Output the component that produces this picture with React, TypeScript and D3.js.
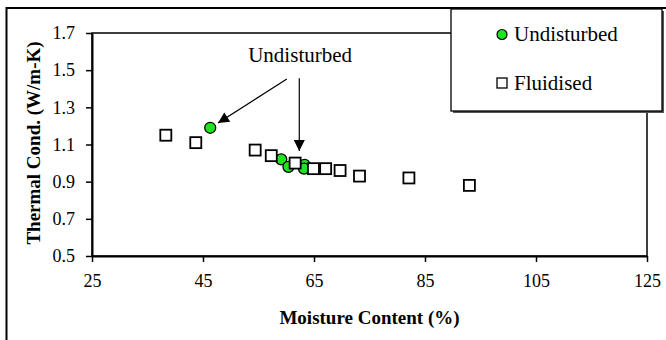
import { useEffect, useRef } from "react";
import * as d3 from "d3";

// moisture content (%) vs thermal conductivity (W/m-K)
const undisturbedX = [46.3, 59.1, 60.4, 63.3, 63.2];
const undisturbedY = [1.19, 1.02, 0.98, 0.99, 0.97];
const fluidisedX = [38.3, 43.7, 54.4, 57.3, 61.6, 64.9, 67.1, 69.7, 73.2, 82.1, 93.0];
const fluidisedY = [1.15, 1.11, 1.07, 1.04, 1.0, 0.97, 0.97, 0.96, 0.93, 0.92, 0.88];
const xTicks = [25, 45, 65, 85, 105, 125];
const yTicks = [0.5, 0.7, 0.9, 1.1, 1.3, 1.5, 1.7];
const seriesNames = ["Undisturbed", "Fluidised"];

const W = 666;
const H = 340;
const m = { l: 92, r: 19, t: 33, b: 84 };
const FONT = "Liberation Serif, Times New Roman, DejaVu Serif, serif";
const GREEN = "#1ee61e";

const App = () => {
  const svgRef = useRef<SVGSVGElement>(null);

  useEffect(() => {
    const svg = d3.select(svgRef.current).attr("font-family", FONT);
    svg.selectAll("*").remove();

    const x = d3.scaleLinear().domain([25, 125]).range([m.l, W - m.r]);
    const y = d3.scaleLinear().domain([0.5, 1.7]).range([H - m.b, m.t]);

    // outer frame
    svg
      .append("rect")
      .attr("x", 6.5)
      .attr("y", 8)
      .attr("width", W)
      .attr("height", H)
      .attr("fill", "white")
      .attr("stroke", "black")
      .attr("stroke-width", 2);

    // plot box
    svg
      .append("rect")
      .attr("x", m.l)
      .attr("y", m.t)
      .attr("width", W - m.r - m.l)
      .attr("height", H - m.b - m.t)
      .attr("fill", "none")
      .attr("stroke", "black")
      .attr("stroke-width", 1.5);

    const xAxis = d3.axisBottom(x).tickValues(xTicks).tickSizeInner(6).tickSizeOuter(0).tickPadding(12);
    const gx = svg.append("g").attr("transform", `translate(0,${H - m.b})`).call(xAxis);
    const yAxis = d3
      .axisLeft(y)
      .tickValues(yTicks)
      .tickFormat(d3.format(".1f"))
      .tickSizeInner(6)
      .tickSizeOuter(0)
      .tickPadding(11);
    const gy = svg.append("g").attr("transform", `translate(${m.l},0)`).call(yAxis);
    [gx, gy].forEach((g) => {
      g.attr("font-family", FONT).attr("font-size", 18);
      g.select(".domain").attr("stroke-width", 2);
      g.selectAll(".tick line").attr("stroke-width", 1.5);
      g.selectAll(".tick text").attr("fill", "black");
    });

    // axis titles
    svg
      .append("text")
      .attr("x", (m.l + W - m.r) / 2)
      .attr("y", 324)
      .attr("text-anchor", "middle")
      .attr("font-size", 19)
      .attr("font-weight", "bold")
      .text("Moisture Content (%)");
    svg
      .append("text")
      .attr("transform", "rotate(-90)")
      .attr("x", -143)
      .attr("y", 40)
      .attr("text-anchor", "middle")
      .attr("font-size", 19)
      .attr("font-weight", "bold")
      .text("Thermal Cond. (W/m-K)");

    // annotation with arrows
    const defs = svg.append("defs");
    defs
      .append("marker")
      .attr("id", "head")
      .attr("viewBox", "0 0 10 10")
      .attr("refX", 10)
      .attr("refY", 5)
      .attr("markerWidth", 13)
      .attr("markerHeight", 11)
      .attr("markerUnits", "userSpaceOnUse")
      .attr("orient", "auto")
      .append("path")
      .attr("d", "M0,0L10,5L0,10Z")
      .attr("fill", "black");

    svg
      .append("text")
      .attr("x", x(62.5))
      .attr("y", y(1.545))
      .attr("text-anchor", "middle")
      .attr("font-size", 21)
      .text("Undisturbed");
    const arrows = [
      [60.1, 1.452, 47.7, 1.216],
      [62.35, 1.456, 62.35, 1.065],
    ];
    svg
      .selectAll(".arrow")
      .data(arrows)
      .join("line")
      .attr("x1", (d) => x(d[0]))
      .attr("y1", (d) => y(d[1]))
      .attr("x2", (d) => x(d[2]))
      .attr("y2", (d) => y(d[3]))
      .attr("stroke", "black")
      .attr("stroke-width", 1.2)
      .attr("marker-end", "url(#head)");

    // undisturbed circles
    svg
      .append("g")
      .selectAll("circle")
      .data(undisturbedX.map((v, i) => [v, undisturbedY[i]]))
      .join("circle")
      .attr("cx", (d) => x(d[0]))
      .attr("cy", (d) => y(d[1]))
      .attr("r", 5.5)
      .attr("fill", GREEN)
      .attr("stroke", "black")
      .attr("stroke-width", 1.3);

    // fluidised squares
    const s = 11;
    svg
      .append("g")
      .selectAll("rect")
      .data(fluidisedX.map((v, i) => [v, fluidisedY[i]]))
      .join("rect")
      .attr("x", (d) => x(d[0]) - s / 2)
      .attr("y", (d) => y(d[1]) - s / 2)
      .attr("width", s)
      .attr("height", s)
      .attr("fill", "white")
      .attr("stroke", "black")
      .attr("stroke-width", 1.8);

    // legend
    const lg = svg.append("g");
    lg.append("rect").attr("x", 453).attr("y", 11).attr("width", 211).attr("height", 102).attr("fill", "#555");
    lg.append("rect")
      .attr("x", 451)
      .attr("y", 9)
      .attr("width", 211)
      .attr("height", 102)
      .attr("fill", "white")
      .attr("stroke", "black")
      .attr("stroke-width", 1.3);
    lg.append("circle")
      .attr("cx", 502)
      .attr("cy", 34.5)
      .attr("r", 5)
      .attr("fill", GREEN)
      .attr("stroke", "black")
      .attr("stroke-width", 1.2);
    lg.append("rect")
      .attr("x", 497)
      .attr("y", 78)
      .attr("width", 10)
      .attr("height", 10)
      .attr("fill", "white")
      .attr("stroke", "black")
      .attr("stroke-width", 1.3);
    lg.selectAll(".lt")
      .data(seriesNames)
      .join("text")
      .attr("x", 514)
      .attr("y", (d, i) => 41 + i * 48.5)
      .attr("font-size", 21)
      .text((d) => d);
  }, []);

  return (
    <svg
      ref={svgRef}
      width={W}
      height={H}
      style={{ position: "absolute", left: 0, top: 0, background: "white" }}
    ></svg>
  );
};

export default App;
